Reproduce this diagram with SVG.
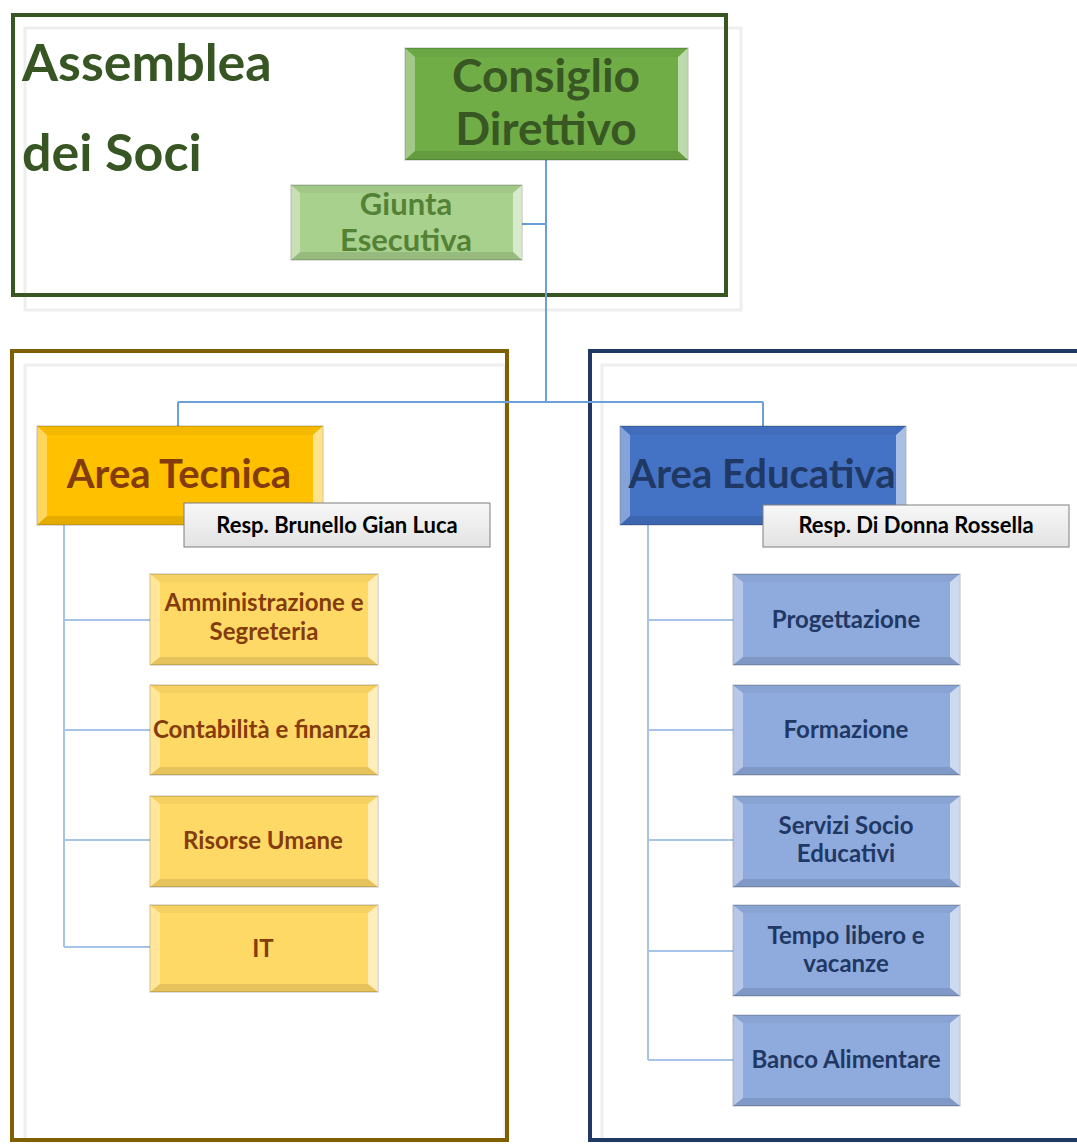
<svg xmlns="http://www.w3.org/2000/svg" width="1077" height="1144" viewBox="0 0 1077 1144">
<defs>
<style>
text{font-family:Lato,"Open Sans","Liberation Sans",sans-serif;font-weight:bold;text-anchor:middle}
.frame{fill:none;stroke-width:4}
.ghost{fill:none;stroke:#eeeeee;stroke-width:3}
.box{stroke:#000;stroke-opacity:.22;stroke-width:1.2}
.bl{fill:#fff;fill-opacity:.35}
.br{fill:#fff;fill-opacity:.55}
.bt{fill:#000;fill-opacity:.04}
.bb{fill:#000;fill-opacity:.1}
.main{fill:none;stroke:#6a9fd8;stroke-width:2}
.sub{fill:none;stroke:#a7c4e8;stroke-width:2}
.resp{fill:url(#gr);stroke:#7f7f7f;stroke-width:1}
.ch{font-size:24px}
</style>
<linearGradient id="gr" x1="0" y1="0" x2="0" y2="1"><stop offset="0" stop-color="#f7f7f7"/><stop offset="1" stop-color="#e3e3e3"/></linearGradient>
</defs>
<rect width="1077" height="1144" fill="#fff"/>

<!-- ghost frames -->
<rect class="ghost" x="25" y="28" width="716" height="282"/>
<rect class="ghost" x="25" y="365" width="480" height="776"/>
<rect class="ghost" x="602" y="365" width="480" height="776"/>

<!-- frames -->
<g id="assemblea">
<rect class="frame" stroke="#375623" x="13" y="15" width="713" height="280"/>
<text x="22" y="81" font-size="52" fill="#375623" style="text-anchor:start">Assemblea</text>
<text x="22" y="171" font-size="52" fill="#375623" style="text-anchor:start">dei Soci</text>
</g>
<rect class="frame" stroke="#7f6000" x="12" y="351" width="495" height="789"/>
<rect class="frame" stroke="#1f3864" x="590" y="351" width="500" height="789"/>

<!-- connectors -->
<g id="connectors">
<path class="main" d="M546 160V402M522 224H546M178 402H763M178 402V426M763 402V426"/>
<path class="sub" d="M64 525V947M64 620H150M64 730H150M64 840H150M64 947H150"/>
<path class="sub" d="M648 525V1060M648 620H733M648 730H733M648 840H733M648 951H733M648 1060H733"/>
</g>

<g id="consiglio">
<rect class="box" x="405" y="48" width="283" height="112" fill="#70ad47"/>
<path class="bl" d="M405 48L415 57V151L405 160Z"/><path class="br" d="M688 48L678 57V151L688 160Z"/>
<path class="bt" d="M405 48H688L678 57H415Z"/><path class="bb" d="M405 160H688L678 151H415Z"/>
<text x="546" y="92" font-size="46" fill="#385723">Consiglio</text>
<text x="546" y="145" font-size="46" fill="#385723">Direttivo</text>
</g>

<g id="giunta">
<rect class="box" x="291" y="185" width="231" height="75" fill="#a9d18e"/>
<path class="bl" d="M291 185L300 193V252L291 260Z"/><path class="br" d="M522 185L513 193V252L522 260Z"/>
<path class="bt" d="M291 185H522L513 193H300Z"/><path class="bb" d="M291 260H522L513 252H300Z"/>
<text x="406" y="215" font-size="31" fill="#548235">Giunta</text>
<text x="406" y="251" font-size="31" fill="#548235">Esecutiva</text>
</g>

<g id="area-tecnica">
<rect class="box" x="37" y="426" width="286" height="99" fill="#ffc000"/>
<path class="bl" d="M37 426L47 435V516L37 525Z"/><path class="br" d="M323 426L313 435V516L323 525Z"/>
<path class="bt" d="M37 426H323L313 435H47Z"/><path class="bb" d="M37 525H323L313 516H47Z"/>
<text x="179" y="488" font-size="40" fill="#843c0c">Area Tecnica</text>
</g>
<g id="resp-tecnica">
<rect class="resp" x="184" y="503" width="306" height="44"/>
<text x="337" y="533" font-size="22" fill="#000">Resp. Brunello Gian Luca</text>
</g>

<g id="area-educativa">
<rect class="box" x="620" y="426" width="286" height="99" fill="#4472c4"/>
<path class="bl" d="M620 426L630 435V516L620 525Z"/><path class="br" d="M906 426L896 435V516L906 525Z"/>
<path class="bt" d="M620 426H906L896 435H630Z"/><path class="bb" d="M620 525H906L896 516H630Z"/>
<text x="762" y="488" font-size="40" fill="#1f3864">Area Educativa</text>
</g>
<g id="resp-educativa">
<rect class="resp" x="763" y="505" width="306" height="42"/>
<text x="916" y="533" font-size="22" fill="#000">Resp. Di Donna Rossella</text>
</g>

<!-- yellow children -->
<g id="amministrazione">
<rect class="box" x="150" y="574" width="228" height="91" fill="#ffd966"/>
<path class="bl" d="M150 574L160 582V657L150 665Z"/><path class="br" d="M378 574L368 582V657L378 665Z"/>
<path class="bt" d="M150 574H378L368 582H160Z"/><path class="bb" d="M150 665H378L368 657H160Z"/>
<text class="ch" x="264" y="611" fill="#843c0c">Amministrazione e</text>
<text class="ch" x="264" y="640" fill="#843c0c">Segreteria</text>
</g>
<g id="contabilita">
<rect class="box" x="150" y="685" width="228" height="90" fill="#ffd966"/>
<path class="bl" d="M150 685L160 693V767L150 775Z"/><path class="br" d="M378 685L368 693V767L378 775Z"/>
<path class="bt" d="M150 685H378L368 693H160Z"/><path class="bb" d="M150 775H378L368 767H160Z"/>
<text class="ch" x="262" y="738" fill="#843c0c">Contabilità e finanza</text>
</g>
<g id="risorse">
<rect class="box" x="150" y="796" width="228" height="91" fill="#ffd966"/>
<path class="bl" d="M150 796L160 804V879L150 887Z"/><path class="br" d="M378 796L368 804V879L378 887Z"/>
<path class="bt" d="M150 796H378L368 804H160Z"/><path class="bb" d="M150 887H378L368 879H160Z"/>
<text class="ch" x="263" y="849" fill="#843c0c">Risorse Umane</text>
</g>
<g id="it">
<rect class="box" x="150" y="905" width="228" height="87" fill="#ffd966"/>
<path class="bl" d="M150 905L160 913V984L150 992Z"/><path class="br" d="M378 905L368 913V984L378 992Z"/>
<path class="bt" d="M150 905H378L368 913H160Z"/><path class="bb" d="M150 992H378L368 984H160Z"/>
<text class="ch" x="263" y="957" fill="#843c0c">IT</text>
</g>

<!-- blue children -->
<g id="progettazione">
<rect class="box" x="733" y="574" width="227" height="91" fill="#8faadc"/>
<path class="bl" d="M733 574L743 582V657L733 665Z"/><path class="br" d="M960 574L950 582V657L960 665Z"/>
<path class="bt" d="M733 574H960L950 582H743Z"/><path class="bb" d="M733 665H960L950 657H743Z"/>
<text class="ch" x="846" y="628" fill="#1f3864">Progettazione</text>
</g>
<g id="formazione">
<rect class="box" x="733" y="685" width="227" height="90" fill="#8faadc"/>
<path class="bl" d="M733 685L743 693V767L733 775Z"/><path class="br" d="M960 685L950 693V767L960 775Z"/>
<path class="bt" d="M733 685H960L950 693H743Z"/><path class="bb" d="M733 775H960L950 767H743Z"/>
<text class="ch" x="846" y="738" fill="#1f3864">Formazione</text>
</g>
<g id="servizi">
<rect class="box" x="733" y="796" width="227" height="91" fill="#8faadc"/>
<path class="bl" d="M733 796L743 804V879L733 887Z"/><path class="br" d="M960 796L950 804V879L960 887Z"/>
<path class="bt" d="M733 796H960L950 804H743Z"/><path class="bb" d="M733 887H960L950 879H743Z"/>
<text class="ch" x="846" y="834" fill="#1f3864">Servizi Socio</text>
<text class="ch" x="846" y="862" fill="#1f3864">Educativi</text>
</g>
<g id="tempo">
<rect class="box" x="733" y="905" width="227" height="91" fill="#8faadc"/>
<path class="bl" d="M733 905L743 913V988L733 996Z"/><path class="br" d="M960 905L950 913V988L960 996Z"/>
<path class="bt" d="M733 905H960L950 913H743Z"/><path class="bb" d="M733 996H960L950 988H743Z"/>
<text class="ch" x="846" y="944" fill="#1f3864">Tempo libero e</text>
<text class="ch" x="846" y="972" fill="#1f3864">vacanze</text>
</g>
<g id="banco">
<rect class="box" x="733" y="1015" width="227" height="91" fill="#8faadc"/>
<path class="bl" d="M733 1015L743 1023V1098L733 1106Z"/><path class="br" d="M960 1015L950 1023V1098L960 1106Z"/>
<path class="bt" d="M733 1015H960L950 1023H743Z"/><path class="bb" d="M733 1106H960L950 1098H743Z"/>
<text class="ch" x="846" y="1068" fill="#1f3864">Banco Alimentare</text>
</g>
</svg>
